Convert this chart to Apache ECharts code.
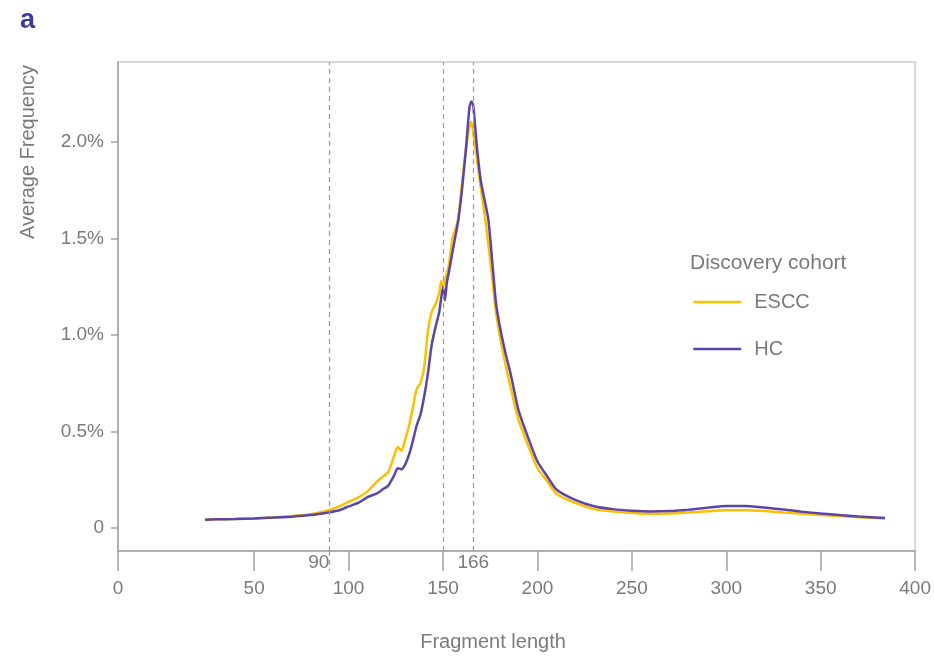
<!DOCTYPE html>
<html>
<head>
<meta charset="utf-8">
<script src="https://cdn.jsdelivr.net/npm/echarts@6/dist/echarts.min.js"></script>
<style>
  html, body { margin: 0; padding: 0; background: #fff; }
  #chart { width: 934px; height: 659px; }
</style>
</head>
<body>
<div id="chart"></div>
<script>
// Fragment lengths (bp) at which the average frequency is sampled
const lengths = [24, 30, 40, 50, 60, 70, 80, 90, 95, 100, 105, 110, 115, 118, 121, 124, 126, 128, 130, 132, 134, 136, 138, 140, 142, 144, 146, 148, 149, 150, 151, 152, 153, 155, 158, 160, 162, 164, 165, 166, 168, 170, 172, 174, 176, 178, 180, 183, 186, 190, 195, 200, 205, 210, 220, 230, 240, 250, 260, 270, 280, 290, 300, 310, 320, 330, 340, 350, 360, 370, 384];

// Average frequency (%) per fragment length, ESCC patients
const esccFreq = [0.043, 0.045, 0.047, 0.050, 0.055, 0.062, 0.072, 0.094, 0.112, 0.136, 0.158, 0.19, 0.24, 0.265, 0.29, 0.37, 0.42, 0.40, 0.46, 0.53, 0.625, 0.72, 0.75, 0.83, 1.02, 1.12, 1.16, 1.22, 1.28, 1.25, 1.28, 1.32, 1.36, 1.50, 1.60, 1.78, 1.95, 2.08, 2.105, 2.05, 1.91, 1.76, 1.63, 1.47, 1.30, 1.12, 1.00, 0.85, 0.72, 0.56, 0.43, 0.31, 0.245, 0.178, 0.13, 0.098, 0.086, 0.079, 0.074, 0.075, 0.080, 0.087, 0.092, 0.092, 0.088, 0.081, 0.074, 0.068, 0.062, 0.056, 0.050];

// Average frequency (%) per fragment length, healthy controls
const hcFreq = [0.043, 0.045, 0.047, 0.050, 0.054, 0.059, 0.067, 0.082, 0.092, 0.112, 0.13, 0.16, 0.18, 0.20, 0.22, 0.27, 0.31, 0.305, 0.33, 0.38, 0.45, 0.53, 0.585, 0.68, 0.80, 0.95, 1.04, 1.12, 1.19, 1.25, 1.18, 1.27, 1.32, 1.43, 1.59, 1.75, 1.95, 2.18, 2.21, 2.19, 1.97, 1.80, 1.70, 1.60, 1.39, 1.17, 1.05, 0.91, 0.79, 0.61, 0.47, 0.345, 0.27, 0.20, 0.146, 0.113, 0.098, 0.090, 0.086, 0.088, 0.095, 0.105, 0.114, 0.114, 0.106, 0.096, 0.085, 0.075, 0.067, 0.060, 0.052];

// The axis is broken before 50: the origin label sits at the left edge
const X_START = -22.1;
const xTickValues = [X_START, 50, 100, 150, 200, 250, 300, 350, 400];
const xTickLabels = ['0', '50', '100', '150', '200', '250', '300', '350', '400'];

// Reference lengths marked with dashed guides
const guideLengths = [90, 150, 166];
const guideLabels = [90, 166];

const yTickValues = [0, 0.5, 1.0, 1.5, 2.0];
const yTickLabels = ['0', '0.5%', '1.0%', '1.5%', '2.0%'];

const seriesNames = ['ESCC', 'HC'];
const seriesColors = ['#FBC000', '#5C45A6'];

const FONT = 'Liberation Sans, Arial, sans-serif';
const TEXT = '#7a7a7a';
const AXIS = '#a3a3a3';

const pairs = (ys) => lengths.map((x, i) => [x, ys[i]]);
const labelFor = (vals, labels) => (v) => {
  let best = 0;
  vals.forEach((t, i) => { if (Math.abs(t - v) < Math.abs(vals[best] - v)) best = i; });
  return labels[best];
};

const chart = echarts.init(document.getElementById('chart'), null, { renderer: 'canvas' });

chart.setOption({
  animation: false,
  backgroundColor: '#fff',
  title: [
    { text: 'a', left: 20, top: 7, padding: 0,
      textStyle: { fontFamily: FONT, fontSize: 27, fontWeight: 'bold', color: '#3b3b9a' } },
    { text: 'Discovery cohort', left: 690, top: 253, padding: 0,
      textStyle: { fontFamily: FONT, fontSize: 21, fontWeight: 'normal', color: TEXT } }
  ],
  legend: {
    orient: 'vertical',
    left: 692,
    top: 292,
    padding: 0,
    itemWidth: 48,
    itemHeight: 20,
    itemGap: 27,
    data: seriesNames,
    itemStyle: { opacity: 0 },
    lineStyle: { width: 2.5 },
    textStyle: { fontFamily: FONT, fontSize: 20, color: TEXT, padding: [0, 0, 0, 8] }
  },
  grid: {
    left: 118, right: 14.5, top: 62, bottom: 108,
    show: true, borderColor: '#d8d8d8', borderWidth: 2
  },
  xAxis: [
    {
      type: 'value',
      min: X_START,
      max: 400,
      splitLine: { show: false },
      axisLine: { onZero: false, lineStyle: { color: AXIS, width: 1.5 } },
      axisTick: { customValues: xTickValues, length: 20, lineStyle: { color: AXIS, width: 1.5 } },
      axisLabel: {
        customValues: xTickValues,
        formatter: labelFor(xTickValues, xTickLabels),
        margin: 28,
        fontFamily: FONT, fontSize: 19, color: TEXT
      }
    },
    {
      // guide labels and the dashed extension below the axis
      type: 'value',
      min: X_START,
      max: 400,
      position: 'bottom',
      splitLine: { show: false },
      axisLine: { show: false, onZero: false },
      axisTick: { customValues: [90], length: 20,
        lineStyle: { color: '#9a9a9a', width: 1.2, type: [5, 4] } },
      axisLabel: {
        customValues: guideLabels,
        margin: 2,
        formatter: (v) => (Math.round(v) === 90 ? '{l|90}' : '{c|166}'),
        rich: {
          l: { fontFamily: FONT, fontSize: 19, color: TEXT, padding: [0, 22, 0, 0] },
          c: { fontFamily: FONT, fontSize: 19, color: TEXT }
        }
      }
    }
  ],
  yAxis: {
    type: 'value',
    min: -0.119,
    max: 2.415,
    splitLine: { show: false },
    axisLine: { show: true, onZero: false, lineStyle: { color: AXIS, width: 1.5 } },
    axisTick: { show: true, customValues: yTickValues, length: 7, lineStyle: { color: AXIS, width: 1.5 } },
    axisLabel: {
      customValues: yTickValues,
      formatter: labelFor(yTickValues, yTickLabels),
      margin: 14,
      fontFamily: FONT, fontSize: 19, color: TEXT
    }
  },
  graphic: [
    { type: 'text', x: 28, y: 152, rotation: Math.PI / 2,
      style: { text: 'Average Frequency', fontFamily: FONT, fontSize: 20, fill: TEXT,
               align: 'center', verticalAlign: 'middle' } },
    { type: 'text', x: 493, y: 642,
      style: { text: 'Fragment length', fontFamily: FONT, fontSize: 20, fill: TEXT,
               align: 'center', verticalAlign: 'middle' } }
  ],
  series: [
    {
      name: seriesNames[0],
      type: 'line',
      data: pairs(esccFreq),
      smooth: 0.2,
      symbol: 'none',
      color: seriesColors[0],
      lineStyle: { width: 2.5, color: seriesColors[0] },
      z: 2,
      markLine: {
        silent: true,
        symbol: 'none',
        label: { show: false },
        lineStyle: { color: '#9a9a9a', width: 1.2, type: [5, 4] },
        data: guideLengths.map((g) => ({ xAxis: g }))
      }
    },
    {
      name: seriesNames[1],
      type: 'line',
      data: pairs(hcFreq),
      smooth: 0.2,
      symbol: 'none',
      color: seriesColors[1],
      lineStyle: { width: 2.5, color: seriesColors[1] },
      z: 3
    }
  ]
});
</script>
</body>
</html>
